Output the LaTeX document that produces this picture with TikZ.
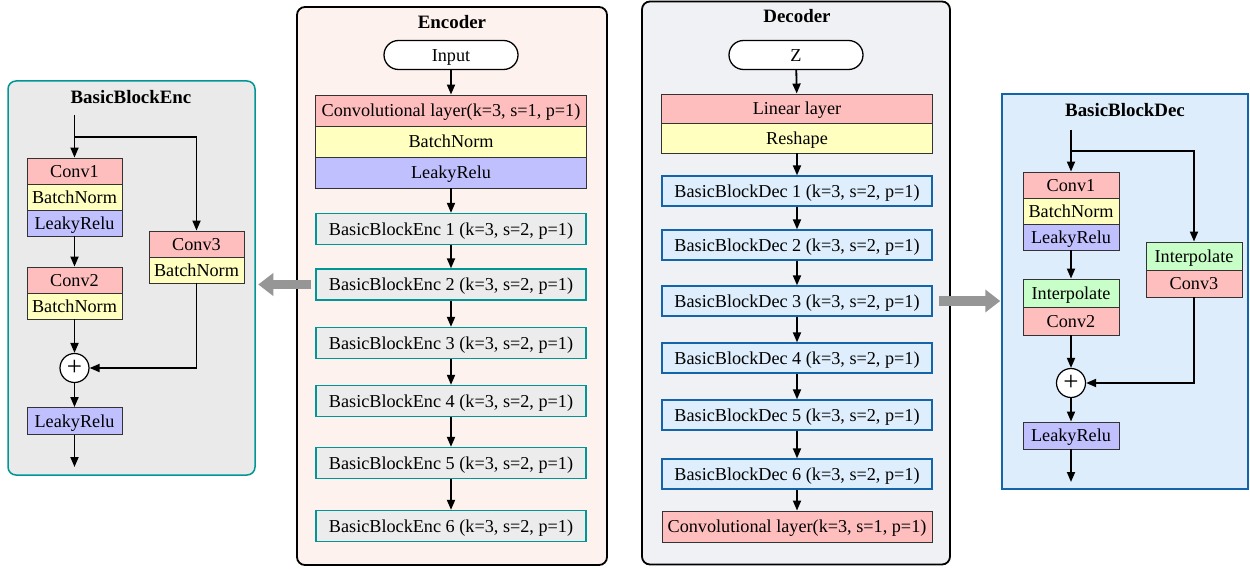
\documentclass[tikz,border=0pt]{standalone}
\usepackage{fontspec}
\setmainfont{Liberation Serif}
\usetikzlibrary{arrows.meta,shapes.misc}
\definecolor{pinkc}{RGB}{255,190,190}
\definecolor{yelc}{RGB}{255,255,192}
\definecolor{purc}{RGB}{192,192,255}
\definecolor{grnc}{RGB}{200,255,200}
\definecolor{encblk}{RGB}{236,236,236}
\definecolor{tealc}{RGB}{0,150,150}
\definecolor{bluec}{RGB}{20,100,170}
\definecolor{decblk}{RGB}{222,238,252}
\definecolor{lpfill}{RGB}{234,234,234}
\definecolor{epfill}{RGB}{253,242,238}
\definecolor{dpfill}{RGB}{240,241,245}
\definecolor{rpfill}{RGB}{221,237,251}
\definecolor{grayarr}{RGB}{150,150,150}
\newcommand{\myfs}{\fontsize{18.2}{21}\selectfont}
\newcommand{\mytfs}{\fontsize{18.9}{21}\selectfont}
\begin{document}
\begin{tikzpicture}[x=1pt,y=-1pt,
  every node/.style={inner sep=0pt, font=\myfs, text height=12.4pt, text depth=0pt},
  panel/.style={rounded corners=8pt, line width=1.8pt},
  title/.style={font=\mytfs\bfseries},
  lay/.style={draw=black!80, line width=0.9pt, minimum width=95, minimum height=26},
  biglay/.style={draw=black!80, line width=0.9pt, minimum width=271, minimum height=31},
  encb/.style={draw=tealc, fill=encblk, line width=1.3pt, minimum width=270, minimum height=31},
  decb/.style={draw=bluec, fill=decblk, line width=1.3pt, minimum width=270, minimum height=30},
  term/.style={draw, fill=white, line width=1.3pt, rounded rectangle, minimum width=134, minimum height=29},
  plus/.style={draw, fill=white, circle, line width=1.2pt, minimum size=29, text height=14pt, text depth=0pt, font=\fontsize{27}{27}\selectfont},
  arr/.style={-{Triangle[length=10pt,width=8pt]}, line width=1.8pt},
  bigarr/.style={draw=grayarr, line width=9.5pt, -{Triangle[length=15pt,width=22pt]}}
]
\useasboundingbox (0,0) rectangle (1250,569);

% ---------- panels ----------
\node[panel, draw=tealc, fill=lpfill, line width=1.5pt, minimum width=247, minimum height=394] (lp) at (131.5,278) {};
\node[panel, draw=black, fill=epfill, minimum width=310, minimum height=558] (ep) at (452,286) {};
\node[panel, draw=black, fill=dpfill, minimum width=308, minimum height=563] (dp) at (796,283) {};
\node[draw=bluec, fill=rpfill, line width=1.5pt, minimum width=246, minimum height=395] (rp) at (1125,291.5) {};

\node[title] (lpt) at (131,97) {BasicBlockEnc};
\node[title] (ept) at (452,22) {Encoder};
\node[title] (dpt) at (797,16) {Decoder};
\node[title] (rpt) at (1125,110) {BasicBlockDec};

% ---------- BasicBlockEnc ----------
\node[lay, fill=pinkc] (lc1) at (74.5,171) {Conv1};
\node[lay, fill=yelc] (lbn1) at (74.5,197) {BatchNorm};
\node[lay, fill=purc] (llr1) at (74.5,223) {LeakyRelu};
\node[lay, fill=pinkc] (lc2) at (74.5,280) {Conv2};
\node[lay, fill=yelc] (lbn2) at (74.5,306) {BatchNorm};
\node[lay, fill=pinkc] (lc3) at (196.5,244) {Conv3};
\node[lay, fill=yelc] (lbn3) at (196.5,270) {BatchNorm};
\node[plus] (lplus) at (74.5,368) {+};
\node[lay, fill=purc, minimum height=27] (llr2) at (74.5,421) {LeakyRelu};
\coordinate (lin) at (74.5,115);
\coordinate (lbr) at (74.5,137);
\coordinate (lout) at (74.5,467);
\draw[arr] (lin) -- (lc1.north);
\draw[arr] (lbr) -| (lc3.north);
\draw[arr] (llr1.south) -- (lc2.north);
\draw[arr] (lbn2.south) -- (lplus.north);
\draw[arr] (lbn3.south) |- (lplus.east);
\draw[arr] (lplus.south) -- (llr2.north);
\draw[arr] (llr2.south) -- (lout);

% ---------- Encoder ----------
\node[term] (ein) at (451,55) {Input};
\node[biglay, fill=pinkc] (econv) at (451,110.5) {Convolutional layer(k=3, s=1, p=1)};
\node[biglay, fill=yelc] (ebn) at (451,141.5) {BatchNorm};
\node[biglay, fill=purc] (elr) at (451,172.5) {LeakyRelu};
\node[encb] (e1) at (451,229) {BasicBlockEnc 1 (k=3, s=2, p=1)};
\node[encb] (e2) at (451,284.5) {BasicBlockEnc 2 (k=3, s=2, p=1)};
\node[encb] (e3) at (451,343) {BasicBlockEnc 3 (k=3, s=2, p=1)};
\node[encb] (e4) at (451,401) {BasicBlockEnc 4 (k=3, s=2, p=1)};
\node[encb] (e5) at (451,463) {BasicBlockEnc 5 (k=3, s=2, p=1)};
\node[encb] (e6) at (451,526) {BasicBlockEnc 6 (k=3, s=2, p=1)};
\draw[arr] (ein) -- (econv);
\draw[arr] (elr) -- (e1);
\draw[arr] (e1) -- (e2);
\draw[arr] (e2) -- (e3);
\draw[arr] (e3) -- (e4);
\draw[arr] (e4) -- (e5);
\draw[arr] (e5) -- (e6);

% ---------- Decoder ----------
\node[term] (dz) at (796,55) {Z};
\node[biglay, fill=pinkc, minimum height=29] (dlin) at (797,108.5) {Linear layer};
\node[biglay, fill=yelc, minimum height=30] (dres) at (797,138) {Reshape};
\node[decb] (d1) at (797,191) {BasicBlockDec 1 (k=3, s=2, p=1)};
\node[decb] (d2) at (797,245) {BasicBlockDec 2 (k=3, s=2, p=1)};
\node[decb] (d3) at (797,301) {BasicBlockDec 3 (k=3, s=2, p=1)};
\node[decb] (d4) at (797,358) {BasicBlockDec 4 (k=3, s=2, p=1)};
\node[decb] (d5) at (797,415) {BasicBlockDec 5 (k=3, s=2, p=1)};
\node[decb] (d6) at (797,474) {BasicBlockDec 6 (k=3, s=2, p=1)};
\node[biglay, fill=pinkc, minimum width=270] (dconv) at (797,526.5) {Convolutional layer(k=3, s=1, p=1)};
\draw[arr] (dz) -- (dlin);
\draw[arr] (dres) -- (d1);
\draw[arr] (d1) -- (d2);
\draw[arr] (d2) -- (d3);
\draw[arr] (d3) -- (d4);
\draw[arr] (d4) -- (d5);
\draw[arr] (d5) -- (d6);
\draw[arr] (d6) -- (dconv);

% ---------- BasicBlockDec ----------
\node[lay, fill=pinkc, minimum width=96] (rc1) at (1071,185) {Conv1};
\node[lay, fill=yelc, minimum width=96] (rbn1) at (1071,211) {BatchNorm};
\node[lay, fill=purc, minimum width=96] (rlr1) at (1071,237) {LeakyRelu};
\node[lay, fill=grnc, minimum width=96, minimum height=28] (rint2) at (1071,293) {Interpolate};
\node[lay, fill=pinkc, minimum width=96, minimum height=28] (rc2) at (1071,321) {Conv2};
\node[lay, fill=grnc, minimum width=96, minimum height=28] (rint3) at (1194,256) {Interpolate};
\node[lay, fill=pinkc, minimum width=96, minimum height=27] (rc3) at (1194,283.5) {Conv3};
\node[plus] (rplus) at (1071,383) {+};
\node[lay, fill=purc, minimum width=96, minimum height=27] (rlr2) at (1071,435.5) {LeakyRelu};
\coordinate (rin) at (1071,130);
\coordinate (rbr) at (1071,151);
\coordinate (rout) at (1071,482);
\draw[arr] (rin) -- (rc1.north);
\draw[arr] (rbr) -| (rint3.north);
\draw[arr] (rlr1.south) -- (rint2.north);
\draw[arr] (rc2.south) -- (rplus.north);
\draw[arr] (rc3.south) |- (rplus.east);
\draw[arr] (rplus.south) -- (rlr2.north);
\draw[arr] (rlr2.south) -- (rout);

% ---------- big gray arrows ----------
\draw[bigarr] ([xshift=-4pt]e2.west) -- ([xshift=2.5pt]lp.east |- e2.west);
\draw[bigarr] ([xshift=6pt]d3.east) -- ([xshift=-1pt]rp.west |- d3.east);
\end{tikzpicture}
\end{document}
